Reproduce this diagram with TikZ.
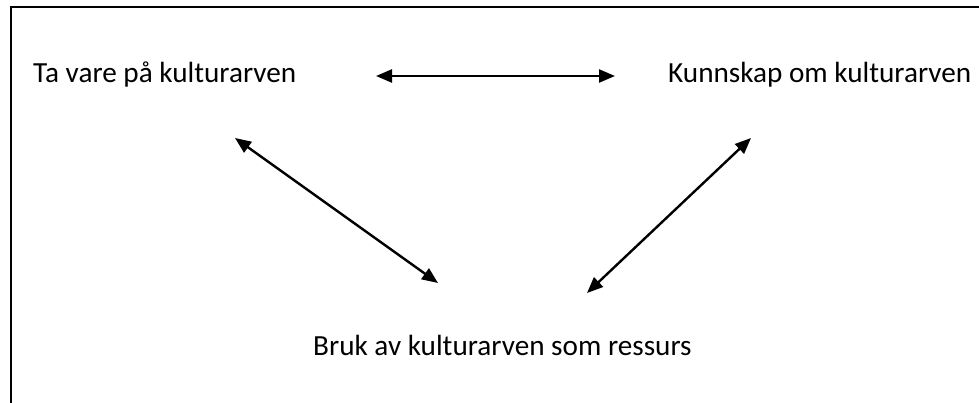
\documentclass[tikz,border=0pt]{standalone}
\usepackage{fontspec}
\setmainfont{Carlito}
\usetikzlibrary{arrows.meta,positioning}

\begin{document}
\begin{tikzpicture}[x=1pt,y=-1pt,>={Triangle[length=16pt,width=13pt]},line width=2.4pt,
    goal/.style={inner sep=0pt,anchor=base west,font=\fontsize{29.2}{34}\selectfont}]

            \useasboundingbox (0,0) rectangle (979,403);

            \draw[line width=2pt] (11,404) -- (11,7) -- (980,7);

            \node[goal] (tavare) at (32,83) {Ta vare på kulturarven};

            \node[goal] (kunnskap) at (667,83) {Kunnskap om kulturarven};

            \node[goal] (bruk) at (312,355) {Bruk av kulturarven som ressurs};

            

            \coordinate (h1) at (376,76);

            \coordinate (h2) at (615,76);

            \coordinate (l1) at (235,138);

            \coordinate (l2) at (438,283);

            \coordinate (r1) at (751,138);

            \coordinate (r2) at (587,293);

            

            \path[<->] (h1) edge (h2)

                       (l1) edge (l2)

                       (r1) edge (r2);

        \end{tikzpicture}
\end{document}
